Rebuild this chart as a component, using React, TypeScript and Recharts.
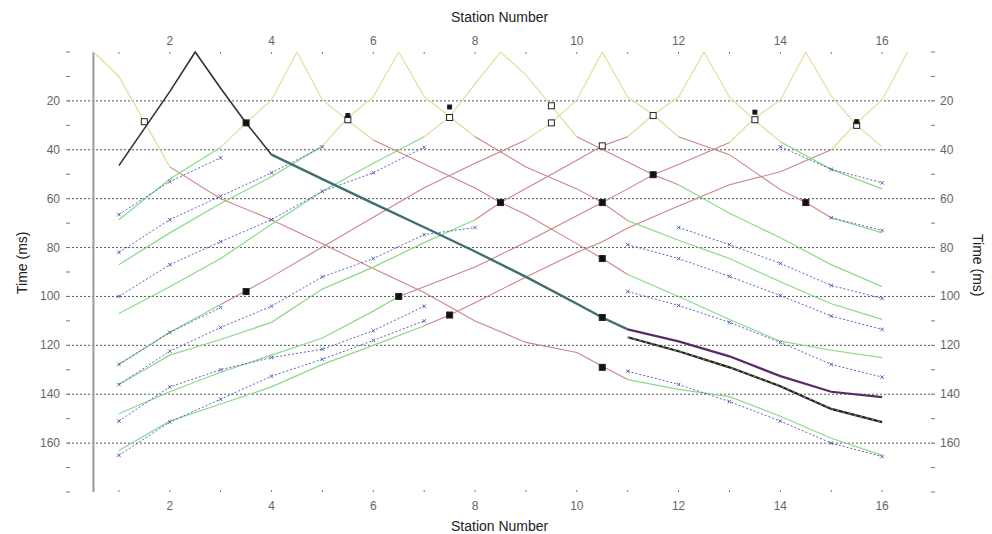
import React from 'react';
import { ComposedChart, Line, Scatter, XAxis, YAxis, ReferenceLine } from 'recharts';

type P = [number, number];

// station ticks / time ticks
const stationTicks = [1, 2, 3, 4, 5, 6, 7, 8, 9, 10, 11, 12, 13, 14, 15, 16];
const timeTicks = [0, 10, 20, 30, 40, 50, 60, 70, 80, 90, 100, 110, 120, 130, 140, 150, 160, 170, 180];
const gridTimes = [20, 40, 60, 80, 100, 120, 140, 160];

// direct arrivals (yellow)
const y05F: P[] = [[0.5, 0], [1, 10], [2, 47]];
const y45R: P[] = [[3, 39], [3.5, 29], [4, 19.6], [4.5, 0]];
const y45F: P[] = [[4.5, 0], [5, 19.6], [5.5, 28], [6, 36]];
const y65R: P[] = [[5, 38.4], [5.5, 27], [6, 18.3], [6.5, 0]];
const y65F: P[] = [[6.5, 0], [7, 18.2], [7.5, 26.5], [8, 34.7]];
const y85R: P[] = [[7, 34.7], [7.5, 26.5], [8, 13], [8.5, 0]];
const y85F: P[] = [[8.5, 0], [9, 9.4], [9.5, 22], [10, 34.7]];
const y105R: P[] = [[9, 36], [9.5, 29], [10, 19.6], [10.5, 0]];
const y105F: P[] = [[10.5, 0], [11, 18.4], [11.5, 25.7], [12, 34.7]];
const y125R: P[] = [[11, 34.7], [11.5, 25.7], [12, 18.4], [12.5, 0]];
const y125F: P[] = [[12.5, 0], [13, 18.4], [13.5, 28], [14, 36.7]];
const y145R: P[] = [[13, 37], [13.5, 27], [14, 19.6], [14.5, 0]];
const y145F: P[] = [[14.5, 0], [15, 18], [15.5, 30], [16, 38.8]];
const y165R: P[] = [[15, 40], [15.5, 29], [16, 19.6], [16.5, 0]];

// first refractor (red)
const r05F: P[] = [[2, 47], [3, 60], [4, 68.6], [5, 78.4], [6, 88.6], [7, 98.4], [8, 110], [9, 118.8], [10, 122.9], [10.5, 128.6], [11, 134]];
const r45F: P[] = [[6, 36], [7, 45.8], [8, 55.6], [8.5, 61.6], [9, 66.5], [10, 78.4], [10.5, 84.5], [11, 91]];
const r65F: P[] = [[8, 34.7], [9, 47], [10, 56], [10.5, 61.6], [11, 69]];
const r85F: P[] = [[10, 34.7], [11, 45], [11.5, 50.2], [12, 54.3]];
const r105F: P[] = [[12, 34.7], [13, 42], [14, 56.3], [14.5, 61.6], [15, 67.8]];
const r105R: P[] = [[3, 103.3], [4, 92], [5, 79.8], [6, 67.6], [7, 55.5], [8, 45.5], [9, 36]];
const r125R: P[] = [[8, 68.6], [8.5, 61.6], [9, 55.8], [10, 44.3], [10.5, 38.4], [11, 34.7]];
const r145R: P[] = [[6.5, 100], [7, 96], [8, 88], [9, 77.8], [10, 67], [10.5, 61.6], [11, 56], [11.5, 50.2], [12, 46], [13, 37]];
const r165R: P[] = [[7, 112], [7.5, 107.6], [8, 102.6], [9, 92], [10, 82], [10.5, 77.6], [11, 72], [12, 63], [13, 54.3], [14, 49], [15, 40]];

// second refractor (green)
const g05F: P[] = [[11, 134], [12, 138], [13, 141], [14, 149], [15, 158], [16, 165]];
const g45F: P[] = [[11, 91], [12, 100], [13, 109.4], [14, 118.3], [15, 122], [16, 125]];
const g65F: P[] = [[11, 69], [12, 77], [13, 84.5], [14, 94], [15, 103], [16, 109.4]];
const g85F: P[] = [[12, 54.3], [13, 66], [14, 76], [15, 87], [16, 96]];
const g105F: P[] = [[15, 67.8], [16, 74]];
const g125F: P[] = [[14, 36.7], [15, 48], [16, 56]];
const g45R: P[] = [[1, 68.6], [2, 52], [3, 39]];
const g65R: P[] = [[1, 87], [2, 74], [3, 62], [4, 51], [5, 38.4]];
const g85R: P[] = [[1, 107], [2, 96], [3, 84.5], [4, 70.5], [5, 57], [6, 45.5], [7, 34.7]];
const g105R: P[] = [[1, 127.8], [2, 114.7], [3, 103.3]];
const g125R: P[] = [[1, 136], [2, 124], [3, 117.6], [4, 110.6], [5, 97], [6, 88], [7, 78], [8, 68.6]];
const g145R: P[] = [[1, 148], [2, 139], [3, 131], [4, 124], [5, 117], [6, 106], [6.5, 100]];
const g165R: P[] = [[1, 163], [2, 151], [3, 144], [4, 137], [5, 127.8], [6, 120], [7, 112]];

// computed times (blue dashed)
const b05F: P[] = [[11, 130.6], [12, 136], [13, 143], [14, 151], [15, 160], [16, 165.5]];
const b45F: P[] = [[11, 98], [12, 103.7], [13, 110.6], [14, 118.8], [15, 127.8], [16, 133]];
const b65F: P[] = [[11, 78.8], [12, 84.5], [13, 91.8], [14, 99.6], [15, 108], [16, 113.5]];
const b85F: P[] = [[12, 71.8], [13, 78.8], [14, 86.5], [15, 95.5], [16, 100.8]];
const b105F: P[] = [[15, 67.8], [16, 73]];
const b125F: P[] = [[14, 38.8], [15, 48], [16, 53.5]];
const b45R: P[] = [[1, 66.5], [2, 53], [3, 43.3]];
const b65R: P[] = [[1, 82], [2, 68.6], [3, 59], [4, 49.4], [5, 38.8]];
const b85R: P[] = [[1, 100], [2, 87], [3, 77.6], [4, 68.6], [5, 57], [6, 49.4], [7, 39]];
const b105R: P[] = [[1, 127.8], [2, 114.7], [3, 104.5]];
const b125R: P[] = [[1, 136], [2, 122.4], [3, 112.7], [4, 104], [5, 92], [6, 84.5], [7, 74.7], [8, 71.8]];
const b145R: P[] = [[1, 151], [2, 137], [3, 130], [4, 125], [5, 121.6], [6, 114], [7, 104]];
const b165R: P[] = [[1, 165], [2, 151.4], [3, 142], [4, 132.6], [5, 125.7], [6, 118], [7, 110]];

// selected shot at 2.5
const k25: P[] = [[1, 46.5], [2, 16.2], [2.5, 0], [3, 14.8], [3.5, 29], [4, 42]];
const t25: P[] = [[4, 42], [5, 52], [6, 61.9], [7, 71.7], [8, 81.6], [9, 92], [10, 103], [10.5, 108.6], [11, 113.5]];
const p25: P[] = [[11, 113.5], [12, 118.4], [13, 124.5], [14, 132.6], [15, 139], [16, 141.2]];
const kb25: P[] = [[11, 116.7], [12, 122.4], [13, 129], [14, 136.7], [15, 146], [16, 151.4]];

// markers
const openSquares: P[] = [[1.5, 28.5], [5.5, 27.7], [7.5, 26.8], [9.5, 22], [9.5, 29], [10.5, 38.4], [11.5, 26], [13.5, 27.7], [15.5, 30]];
const smallSquares: P[] = [[5.5, 26], [7.5, 22.5], [13.5, 24.6], [15.5, 28.5]];
const filledSquares: P[] = [[3.5, 29], [3.5, 98], [6.5, 100], [7.5, 107.6], [8.5, 61.6], [10.5, 61.6], [10.5, 84.5], [10.5, 108.6], [10.5, 129], [11.5, 50.2], [14.5, 61.6]];

const YELLOW = '#e6dc9c';
const RED = '#cc8484';
const GREEN = '#8ada8a';
const BLUE = '#5050b4';

const pts = (a: P[]) => a.map(([s, t]) => ({ s, t }));

const XMark = (props: any) => {
  const { cx, cy } = props;
  if (cx == null || cy == null) return <g />;
  return (
    <path
      d={`M${cx - 1.8},${cy - 1.8}L${cx + 1.8},${cy + 1.8}M${cx - 1.8},${cy + 1.8}L${cx + 1.8},${cy - 1.8}`}
      stroke={BLUE}
      strokeWidth={0.9}
      fill="none"
    />
  );
};

const sq = (size: number, fill: string) => (props: any) => {
  const { cx, cy } = props;
  return <rect x={cx - size / 2} y={cy - size / 2} width={size} height={size} fill={fill} stroke="#222" strokeWidth={1} />;
};

const XTick = ({ x, y, payload, top }: any) => {
  const label = payload.value % 2 === 0 ? String(payload.value) : '';
  return (
    <g>
      <line x1={x} x2={x} y1={top ? y : y - 2} y2={top ? y + 2 : y} stroke="#777" />
      <text x={x} y={top ? y - 7 : y + 18} textAnchor="middle" fontSize={12} fill="#666" fontFamily="Liberation Sans, Arial, sans-serif">{label}</text>
    </g>
  );
};

const YTick = ({ x, y, payload, right }: any) => {
  const v = payload.value;
  const label = v >= 20 && v <= 160 && v % 20 === 0 ? String(v) : '';
  return (
    <g>
      <line x1={x - 2} x2={x + 2} y1={y} y2={y} stroke="#777" />
      <text x={right ? x + 7 : x - 8} y={y + 4} textAnchor={right ? 'start' : 'end'} fontSize={12} fill="#666" fontFamily="Liberation Sans, Arial, sans-serif">{label}</text>
    </g>
  );
};

type S = { d: P[]; c: string; w: number; dash?: string; mark?: boolean };

const series: S[] = [
  ...[y05F, y45R, y45F, y65R, y65F, y85R, y85F, y105R, y105F, y125R, y125F, y145R, y145F, y165R].map((d) => ({ d, c: YELLOW, w: 1.2 })),
  ...[r05F, r45F, r65F, r85F, r105F, r105R, r125R, r145R, r165R].map((d) => ({ d, c: RED, w: 1.1 })),
  ...[g05F, g45F, g65F, g85F, g105F, g125F, g45R, g65R, g85R, g105R, g125R, g145R, g165R].map((d) => ({ d, c: GREEN, w: 1.2 })),
  ...[b05F, b45F, b65F, b85F, b105F, b125F, b45R, b65R, b85R, b105R, b125R, b145R, b165R].map((d) => ({ d, c: BLUE, w: 0.9, dash: '2 2', mark: true })),
  { d: k25, c: '#333333', w: 1.6 },
  { d: t25, c: '#3f6f6f', w: 2.4 },
  { d: p25, c: '#5a2a66', w: 2.2 },
  { d: kb25, c: '#222222', w: 2.2 },
  { d: kb25, c: '#c8c070', w: 0.8, dash: '2 4' },
];

const font = 'Liberation Sans, Arial, sans-serif';

export default function App() {
  return (
    <div style={{ position: 'absolute', left: 0, top: 0, width: 992, height: 534, background: '#fff', fontFamily: font }}>
      <ComposedChart width={992} height={534} margin={{ top: 0, right: 0, bottom: 0, left: 0 }}>
        <XAxis xAxisId="b" type="number" dataKey="s" domain={[0, 17]} ticks={stationTicks} orientation="bottom" height={42}
          axisLine={false} tickLine={false} tickSize={0} tickMargin={0} tick={<XTick />} allowDuplicatedCategory={false} />
        <XAxis xAxisId="t" type="number" dataKey="s" domain={[0, 17]} ticks={stationTicks} orientation="top" height={52}
          axisLine={false} tickLine={false} tickSize={0} tickMargin={0} tick={<XTick top />} allowDuplicatedCategory={false} />
        <YAxis yAxisId="l" type="number" domain={[0, 180]} reversed ticks={timeTicks} width={68}
          axisLine={false} tickLine={false} tickSize={0} tickMargin={0} tick={<YTick />} />
        <YAxis yAxisId="r" type="number" domain={[0, 180]} reversed ticks={timeTicks} width={59} orientation="right"
          axisLine={false} tickLine={false} tickSize={0} tickMargin={0} tick={<YTick right />} />
        {gridTimes.map((g) => (
          <ReferenceLine key={g} xAxisId="b" yAxisId="l" y={g} stroke="#555" strokeDasharray="2 2" strokeWidth={1} />
        ))}
        <ReferenceLine xAxisId="b" yAxisId="l" x={0.5} stroke="#999" strokeWidth={2} />
        {/* invisible series so the top and right axes get drawn */}
        <Line xAxisId="t" yAxisId="r" data={pts(y05F)} dataKey="t" stroke="none" dot={false} activeDot={false} isAnimationActive={false} legendType="none" />
        {series.map((sr, i) => (
          <Line key={i} xAxisId="b" yAxisId="l" data={pts(sr.d)} dataKey="t" type="linear" stroke={sr.c} strokeWidth={sr.w}
            strokeDasharray={sr.dash} dot={sr.mark ? XMark : false} activeDot={false} isAnimationActive={false} legendType="none" />
        ))}
        <Scatter xAxisId="b" yAxisId="l" data={pts(openSquares)} dataKey="t" shape={sq(6, '#fff')} isAnimationActive={false} />
        <Scatter xAxisId="b" yAxisId="l" data={pts(smallSquares)} dataKey="t" shape={sq(4, '#111')} isAnimationActive={false} />
        <Scatter xAxisId="b" yAxisId="l" data={pts(filledSquares)} dataKey="t" shape={sq(6, '#111')} isAnimationActive={false} />
      </ComposedChart>
      <div style={{ position: 'absolute', left: 451, top: 9, fontSize: 14, color: '#222', whiteSpace: 'nowrap' }}>Station Number</div>
      <div style={{ position: 'absolute', left: 451, top: 518, fontSize: 14, color: '#222', whiteSpace: 'nowrap' }}>Station Number</div>
      <div style={{ position: 'absolute', left: -8, top: 256, fontSize: 14, color: '#222', transform: 'rotate(-90deg)', whiteSpace: 'nowrap', width: 60, textAlign: 'center' }}>Time (ms)</div>
      <div style={{ position: 'absolute', left: 948, top: 256, fontSize: 14, color: '#222', transform: 'rotate(90deg)', whiteSpace: 'nowrap', width: 60, textAlign: 'center' }}>Time (ms)</div>
    </div>
  );
}
